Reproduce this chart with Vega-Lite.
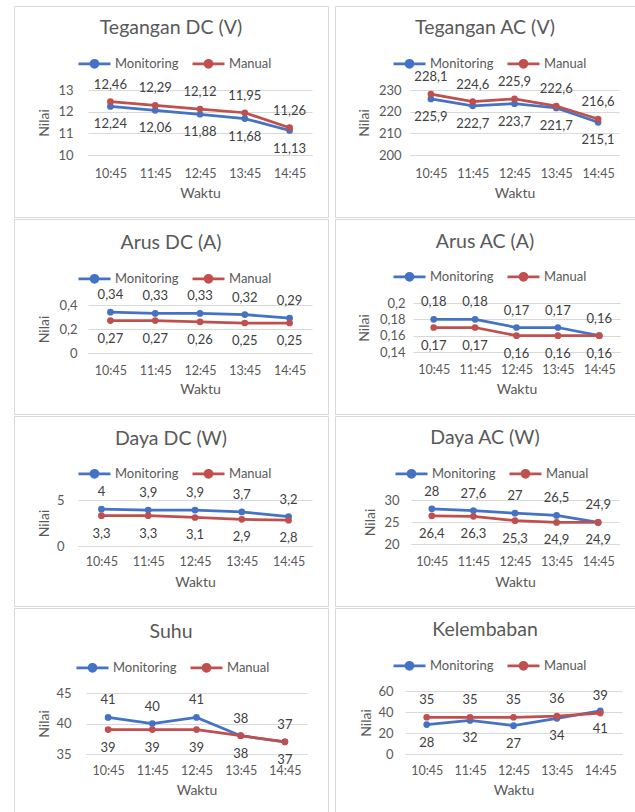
{
  "$schema": "https://vega.github.io/schema/vega-lite/v6.json",
  "padding": {"left": 13, "top": 5, "right": 0, "bottom": 0},
  "columns": 2,
  "spacing": {"row": 2, "column": 7},
  "bounds": "flush",
  "align": "each",
  "resolve": {"scale": {"color": "independent"}, "legend": {"color": "independent"}},
  "data": {"values": [
    {"p":"TDC","s":"Monitoring","w":"10:45","v":12.24},{"p":"TDC","s":"Monitoring","w":"11:45","v":12.06},{"p":"TDC","s":"Monitoring","w":"12:45","v":11.88},{"p":"TDC","s":"Monitoring","w":"13:45","v":11.68},{"p":"TDC","s":"Monitoring","w":"14:45","v":11.13},
    {"p":"TDC","s":"Manual","w":"10:45","v":12.46},{"p":"TDC","s":"Manual","w":"11:45","v":12.29},{"p":"TDC","s":"Manual","w":"12:45","v":12.12},{"p":"TDC","s":"Manual","w":"13:45","v":11.95},{"p":"TDC","s":"Manual","w":"14:45","v":11.26},
    {"p":"TAC","s":"Monitoring","w":"10:45","v":225.9},{"p":"TAC","s":"Monitoring","w":"11:45","v":222.7},{"p":"TAC","s":"Monitoring","w":"12:45","v":223.7},{"p":"TAC","s":"Monitoring","w":"13:45","v":221.7},{"p":"TAC","s":"Monitoring","w":"14:45","v":215.1},
    {"p":"TAC","s":"Manual","w":"10:45","v":228.1},{"p":"TAC","s":"Manual","w":"11:45","v":224.6},{"p":"TAC","s":"Manual","w":"12:45","v":225.9},{"p":"TAC","s":"Manual","w":"13:45","v":222.6},{"p":"TAC","s":"Manual","w":"14:45","v":216.6},
    {"p":"ADC","s":"Monitoring","w":"10:45","v":0.34},{"p":"ADC","s":"Monitoring","w":"11:45","v":0.33},{"p":"ADC","s":"Monitoring","w":"12:45","v":0.33},{"p":"ADC","s":"Monitoring","w":"13:45","v":0.32},{"p":"ADC","s":"Monitoring","w":"14:45","v":0.29},
    {"p":"ADC","s":"Manual","w":"10:45","v":0.27},{"p":"ADC","s":"Manual","w":"11:45","v":0.27},{"p":"ADC","s":"Manual","w":"12:45","v":0.26},{"p":"ADC","s":"Manual","w":"13:45","v":0.25},{"p":"ADC","s":"Manual","w":"14:45","v":0.25},
    {"p":"AAC","s":"Monitoring","w":"10:45","v":0.18},{"p":"AAC","s":"Monitoring","w":"11:45","v":0.18},{"p":"AAC","s":"Monitoring","w":"12:45","v":0.17},{"p":"AAC","s":"Monitoring","w":"13:45","v":0.17},{"p":"AAC","s":"Monitoring","w":"14:45","v":0.16},
    {"p":"AAC","s":"Manual","w":"10:45","v":0.17},{"p":"AAC","s":"Manual","w":"11:45","v":0.17},{"p":"AAC","s":"Manual","w":"12:45","v":0.16},{"p":"AAC","s":"Manual","w":"13:45","v":0.16},{"p":"AAC","s":"Manual","w":"14:45","v":0.16},
    {"p":"DDC","s":"Monitoring","w":"10:45","v":4},{"p":"DDC","s":"Monitoring","w":"11:45","v":3.9},{"p":"DDC","s":"Monitoring","w":"12:45","v":3.9},{"p":"DDC","s":"Monitoring","w":"13:45","v":3.7},{"p":"DDC","s":"Monitoring","w":"14:45","v":3.2},
    {"p":"DDC","s":"Manual","w":"10:45","v":3.3},{"p":"DDC","s":"Manual","w":"11:45","v":3.3},{"p":"DDC","s":"Manual","w":"12:45","v":3.1},{"p":"DDC","s":"Manual","w":"13:45","v":2.9},{"p":"DDC","s":"Manual","w":"14:45","v":2.8},
    {"p":"DAC","s":"Monitoring","w":"10:45","v":28},{"p":"DAC","s":"Monitoring","w":"11:45","v":27.6},{"p":"DAC","s":"Monitoring","w":"12:45","v":27},{"p":"DAC","s":"Monitoring","w":"13:45","v":26.5},{"p":"DAC","s":"Monitoring","w":"14:45","v":24.9},
    {"p":"DAC","s":"Manual","w":"10:45","v":26.4},{"p":"DAC","s":"Manual","w":"11:45","v":26.3},{"p":"DAC","s":"Manual","w":"12:45","v":25.3},{"p":"DAC","s":"Manual","w":"13:45","v":24.9},{"p":"DAC","s":"Manual","w":"14:45","v":24.9},
    {"p":"SUHU","s":"Monitoring","w":"10:45","v":41},{"p":"SUHU","s":"Monitoring","w":"11:45","v":40},{"p":"SUHU","s":"Monitoring","w":"12:45","v":41},{"p":"SUHU","s":"Monitoring","w":"13:45","v":38},{"p":"SUHU","s":"Monitoring","w":"14:45","v":37},
    {"p":"SUHU","s":"Manual","w":"10:45","v":39},{"p":"SUHU","s":"Manual","w":"11:45","v":39},{"p":"SUHU","s":"Manual","w":"12:45","v":39},{"p":"SUHU","s":"Manual","w":"13:45","v":38},{"p":"SUHU","s":"Manual","w":"14:45","v":37},
    {"p":"KEL","s":"Monitoring","w":"10:45","v":28},{"p":"KEL","s":"Monitoring","w":"11:45","v":32},{"p":"KEL","s":"Monitoring","w":"12:45","v":27},{"p":"KEL","s":"Monitoring","w":"13:45","v":34},{"p":"KEL","s":"Monitoring","w":"14:45","v":41},
    {"p":"KEL","s":"Manual","w":"10:45","v":35},{"p":"KEL","s":"Manual","w":"11:45","v":35},{"p":"KEL","s":"Manual","w":"12:45","v":35},{"p":"KEL","s":"Manual","w":"13:45","v":36},{"p":"KEL","s":"Manual","w":"14:45","v":39}
  ]},
  "concat": [
    {
      "width": 314, "height": 211,
      "title": {"text": "Tegangan DC (V)", "offset": -32},
      "transform": [{"filter": "datum.p === 'TDC'"}],
      "encoding": {
        "x": {"field": "w", "type": "nominal", "sort": null, "scale": {"type": "point", "range": [74, 298], "padding": 0.5}, "axis": {"title": "Waktu", "offset": -62, "labelPadding": 18, "titleY": 38}},
        "y": {"field": "v", "type": "quantitative", "scale": {"domain": [10, 13], "range": [149, 84], "zero": false, "nice": false}, "axis": {"title": "Nilai", "offset": -74, "values": [10, 11, 12, 13], "labelPadding": 15, "titleX": -44}}
      },
      "layer": [
        {"mark": {"type": "line", "strokeWidth": 2.75, "point": {"filled": true, "size": 45}},
         "encoding": {"color": {"field": "s", "type": "nominal", "scale": {"domain": ["Monitoring", "Manual"], "range": ["#4472C4", "#C0504D"]},
           "legend": {"orient": "none", "legendX": 63, "legendY": 40, "direction": "horizontal", "title": null, "symbolType": "M-1,0L1,0M-0.22,0A0.22,0.22,0,1,1,0.22,0A0.22,0.22,0,1,1,-0.22,0Z", "symbolSize": 1024, "symbolStrokeWidth": 2.7, "labelFontSize": 13, "labelColor": "#595959", "labelOffset": 3, "columnPadding": 8, "padding": 0,
             "encode": {"symbols": {"update": {"fill": [{"test": "datum.value === 'Monitoring'", "value": "#4472C4"}, {"value": "#C0504D"}], "stroke": [{"test": "datum.value === 'Monitoring'", "value": "#4472C4"}, {"value": "#C0504D"}]}}}}}}},
        {"transform": [{"filter": "datum.s === 'Manual'"}], "mark": {"type": "text", "dy": -17}, "encoding": {"text": {"field": "v", "type": "quantitative", "format": ".2~f"}}},
        {"transform": [{"filter": "datum.s === 'Monitoring'"}], "mark": {"type": "text", "dy": 18}, "encoding": {"text": {"field": "v", "type": "quantitative", "format": ".2~f"}}}
      ]
    },
    {
      "width": 300, "height": 211,
      "title": {"text": "Tegangan AC (V)", "offset": -32},
      "transform": [{"filter": "datum.p === 'TAC'"}],
      "encoding": {
        "x": {"field": "w", "type": "nominal", "sort": null, "scale": {"type": "point", "range": [75, 284], "padding": 0.5}, "axis": {"title": "Waktu", "offset": -62, "labelPadding": 18, "titleY": 38}},
        "y": {"field": "v", "type": "quantitative", "scale": {"domain": [200, 230], "range": [149, 84], "zero": false, "nice": false}, "axis": {"title": "Nilai", "offset": -75, "values": [200, 210, 220, 230], "labelPadding": 9, "titleX": -46}}
      },
      "layer": [
        {"mark": {"type": "line", "strokeWidth": 2.75, "point": {"filled": true, "size": 45}},
         "encoding": {"color": {"field": "s", "type": "nominal", "scale": {"domain": ["Monitoring", "Manual"], "range": ["#4472C4", "#C0504D"]},
           "legend": {"orient": "none", "legendX": 57, "legendY": 40, "direction": "horizontal", "title": null, "symbolType": "M-1,0L1,0M-0.22,0A0.22,0.22,0,1,1,0.22,0A0.22,0.22,0,1,1,-0.22,0Z", "symbolSize": 1024, "symbolStrokeWidth": 2.7, "labelFontSize": 13, "labelColor": "#595959", "labelOffset": 3, "columnPadding": 8, "padding": 0,
             "encode": {"symbols": {"update": {"fill": [{"test": "datum.value === 'Monitoring'", "value": "#4472C4"}, {"value": "#C0504D"}], "stroke": [{"test": "datum.value === 'Monitoring'", "value": "#4472C4"}, {"value": "#C0504D"}]}}}}}}},
        {"transform": [{"filter": "datum.s === 'Manual'"}], "mark": {"type": "text", "dy": -17}, "encoding": {"text": {"field": "v", "type": "quantitative", "format": ".2~f"}}},
        {"transform": [{"filter": "datum.s === 'Monitoring'"}], "mark": {"type": "text", "dy": 18}, "encoding": {"text": {"field": "v", "type": "quantitative", "format": ".2~f"}}}
      ]
    },
    {
      "width": 314, "height": 195,
      "title": {"text": "Arus DC (A)", "offset": -34},
      "transform": [{"filter": "datum.p === 'ADC'"}],
      "encoding": {
        "x": {"field": "w", "type": "nominal", "sort": null, "scale": {"type": "point", "range": [74, 298], "padding": 0.5}, "axis": {"title": "Waktu", "offset": -61, "labelPadding": 17, "titleY": 36}},
        "y": {"field": "v", "type": "quantitative", "scale": {"domain": [0, 0.4], "range": [134, 86], "zero": false, "nice": false}, "axis": {"title": "Nilai", "offset": -74, "values": [0, 0.2, 0.4], "format": ".2~f", "labelPadding": 11, "titleX": -44}}
      },
      "layer": [
        {"mark": {"type": "line", "strokeWidth": 2.75, "point": {"filled": true, "size": 45}},
         "encoding": {"color": {"field": "s", "type": "nominal", "scale": {"domain": ["Monitoring", "Manual"], "range": ["#4472C4", "#C0504D"]},
           "legend": {"orient": "none", "legendX": 63, "legendY": 42, "direction": "horizontal", "title": null, "symbolType": "M-1,0L1,0M-0.22,0A0.22,0.22,0,1,1,0.22,0A0.22,0.22,0,1,1,-0.22,0Z", "symbolSize": 1024, "symbolStrokeWidth": 2.7, "labelFontSize": 13, "labelColor": "#595959", "labelOffset": 3, "columnPadding": 8, "padding": 0,
             "encode": {"symbols": {"update": {"fill": [{"test": "datum.value === 'Monitoring'", "value": "#4472C4"}, {"value": "#C0504D"}], "stroke": [{"test": "datum.value === 'Monitoring'", "value": "#4472C4"}, {"value": "#C0504D"}]}}}}}}},
        {"transform": [{"filter": "datum.s === 'Monitoring'"}], "mark": {"type": "text", "dy": -17}, "encoding": {"text": {"field": "v", "type": "quantitative", "format": ".2~f"}}},
        {"transform": [{"filter": "datum.s === 'Manual'"}], "mark": {"type": "text", "dy": 18}, "encoding": {"text": {"field": "v", "type": "quantitative", "format": ".2~f"}}}
      ]
    },
    {
      "width": 300, "height": 195,
      "title": {"text": "Arus AC (A)", "offset": -33},
      "transform": [{"filter": "datum.p === 'AAC'"}],
      "encoding": {
        "x": {"field": "w", "type": "nominal", "sort": null, "scale": {"type": "point", "range": [78, 285], "padding": 0.5}, "axis": {"title": "Waktu", "offset": -62, "labelPadding": 17, "titleY": 37}},
        "y": {"field": "v", "type": "quantitative", "scale": {"domain": [0.14, 0.2], "range": [133, 84], "zero": false, "nice": false}, "axis": {"title": "Nilai", "offset": -78, "values": [0.14, 0.16, 0.18, 0.2], "format": ".2~f", "labelPadding": 8, "titleX": -49}}
      },
      "layer": [
        {"mark": {"type": "line", "strokeWidth": 2.75, "point": {"filled": true, "size": 45}},
         "encoding": {"color": {"field": "s", "type": "nominal", "scale": {"domain": ["Monitoring", "Manual"], "range": ["#4472C4", "#C0504D"]},
           "legend": {"orient": "none", "legendX": 57, "legendY": 40, "direction": "horizontal", "title": null, "symbolType": "M-1,0L1,0M-0.22,0A0.22,0.22,0,1,1,0.22,0A0.22,0.22,0,1,1,-0.22,0Z", "symbolSize": 1024, "symbolStrokeWidth": 2.7, "labelFontSize": 13, "labelColor": "#595959", "labelOffset": 3, "columnPadding": 8, "padding": 0,
             "encode": {"symbols": {"update": {"fill": [{"test": "datum.value === 'Monitoring'", "value": "#4472C4"}, {"value": "#C0504D"}], "stroke": [{"test": "datum.value === 'Monitoring'", "value": "#4472C4"}, {"value": "#C0504D"}]}}}}}}},
        {"transform": [{"filter": "datum.s === 'Monitoring'"}], "mark": {"type": "text", "dy": -17}, "encoding": {"text": {"field": "v", "type": "quantitative", "format": ".2~f"}}},
        {"transform": [{"filter": "datum.s === 'Manual'"}], "mark": {"type": "text", "dy": 18}, "encoding": {"text": {"field": "v", "type": "quantitative", "format": ".2~f"}}}
      ]
    },
    {
      "width": 314, "height": 190,
      "title": {"text": "Daya DC (W)", "offset": -33},
      "transform": [{"filter": "datum.p === 'DDC'"}],
      "encoding": {
        "x": {"field": "w", "type": "nominal", "sort": null, "scale": {"type": "point", "range": [64, 298], "padding": 0.5}, "axis": {"title": "Waktu", "offset": -60, "labelPadding": 15, "titleY": 36}},
        "y": {"field": "v", "type": "quantitative", "scale": {"domain": [0, 5], "range": [130, 84], "zero": false, "nice": false}, "axis": {"title": "Nilai", "offset": -64, "values": [0, 5], "labelPadding": 14, "titleX": -34}}
      },
      "layer": [
        {"mark": {"type": "line", "strokeWidth": 2.75, "point": {"filled": true, "size": 45}},
         "encoding": {"color": {"field": "s", "type": "nominal", "scale": {"domain": ["Monitoring", "Manual"], "range": ["#4472C4", "#C0504D"]},
           "legend": {"orient": "none", "legendX": 63, "legendY": 40, "direction": "horizontal", "title": null, "symbolType": "M-1,0L1,0M-0.22,0A0.22,0.22,0,1,1,0.22,0A0.22,0.22,0,1,1,-0.22,0Z", "symbolSize": 1024, "symbolStrokeWidth": 2.7, "labelFontSize": 13, "labelColor": "#595959", "labelOffset": 3, "columnPadding": 8, "padding": 0,
             "encode": {"symbols": {"update": {"fill": [{"test": "datum.value === 'Monitoring'", "value": "#4472C4"}, {"value": "#C0504D"}], "stroke": [{"test": "datum.value === 'Monitoring'", "value": "#4472C4"}, {"value": "#C0504D"}]}}}}}}},
        {"transform": [{"filter": "datum.s === 'Monitoring'"}], "mark": {"type": "text", "dy": -17}, "encoding": {"text": {"field": "v", "type": "quantitative", "format": ".2~f"}}},
        {"transform": [{"filter": "datum.s === 'Manual'"}], "mark": {"type": "text", "dy": 18}, "encoding": {"text": {"field": "v", "type": "quantitative", "format": ".2~f"}}}
      ]
    },
    {
      "width": 300, "height": 190,
      "title": {"text": "Daya AC (W)", "offset": -32},
      "transform": [{"filter": "datum.p === 'DAC'"}],
      "encoding": {
        "x": {"field": "w", "type": "nominal", "sort": null, "scale": {"type": "point", "range": [76, 284], "padding": 0.5}, "axis": {"title": "Waktu", "offset": -62, "labelPadding": 17, "titleY": 38}},
        "y": {"field": "v", "type": "quantitative", "scale": {"domain": [20, 30], "range": [128, 84], "zero": false, "nice": false}, "axis": {"title": "Nilai", "offset": -76, "values": [20, 25, 30], "labelPadding": 12, "titleX": -41}}
      },
      "layer": [
        {"mark": {"type": "line", "strokeWidth": 2.75, "point": {"filled": true, "size": 45}},
         "encoding": {"color": {"field": "s", "type": "nominal", "scale": {"domain": ["Monitoring", "Manual"], "range": ["#4472C4", "#C0504D"]},
           "legend": {"orient": "none", "legendX": 59, "legendY": 40, "direction": "horizontal", "title": null, "symbolType": "M-1,0L1,0M-0.22,0A0.22,0.22,0,1,1,0.22,0A0.22,0.22,0,1,1,-0.22,0Z", "symbolSize": 1024, "symbolStrokeWidth": 2.7, "labelFontSize": 13, "labelColor": "#595959", "labelOffset": 3, "columnPadding": 8, "padding": 0,
             "encode": {"symbols": {"update": {"fill": [{"test": "datum.value === 'Monitoring'", "value": "#4472C4"}, {"value": "#C0504D"}], "stroke": [{"test": "datum.value === 'Monitoring'", "value": "#4472C4"}, {"value": "#C0504D"}]}}}}}}},
        {"transform": [{"filter": "datum.s === 'Monitoring'"}], "mark": {"type": "text", "dy": -17}, "encoding": {"text": {"field": "v", "type": "quantitative", "format": ".2~f"}}},
        {"transform": [{"filter": "datum.s === 'Manual'"}], "mark": {"type": "text", "dy": 18}, "encoding": {"text": {"field": "v", "type": "quantitative", "format": ".2~f"}}}
      ]
    },
    {
      "width": 314, "height": 204,
      "title": {"text": "Suhu", "offset": -34},
      "transform": [{"filter": "datum.p === 'SUHU'"}],
      "encoding": {
        "x": {"field": "w", "type": "nominal", "sort": null, "scale": {"type": "point", "range": [72, 293], "padding": 0.5}, "axis": {"title": "Waktu", "offset": -58, "labelPadding": 16, "titleY": 36}},
        "y": {"field": "v", "type": "quantitative", "scale": {"domain": [35, 45], "range": [146, 85], "zero": false, "nice": false}, "axis": {"title": "Nilai", "offset": -72, "values": [35, 40, 45], "labelPadding": 15, "titleX": -42}}
      },
      "layer": [
        {"mark": {"type": "line", "strokeWidth": 2.75, "point": {"filled": true, "size": 45}},
         "encoding": {"color": {"field": "s", "type": "nominal", "scale": {"domain": ["Monitoring", "Manual"], "range": ["#4472C4", "#C0504D"]},
           "legend": {"orient": "none", "legendX": 61, "legendY": 42, "direction": "horizontal", "title": null, "symbolType": "M-1,0L1,0M-0.22,0A0.22,0.22,0,1,1,0.22,0A0.22,0.22,0,1,1,-0.22,0Z", "symbolSize": 1024, "symbolStrokeWidth": 2.7, "labelFontSize": 13, "labelColor": "#595959", "labelOffset": 3, "columnPadding": 8, "padding": 0,
             "encode": {"symbols": {"update": {"fill": [{"test": "datum.value === 'Monitoring'", "value": "#4472C4"}, {"value": "#C0504D"}], "stroke": [{"test": "datum.value === 'Monitoring'", "value": "#4472C4"}, {"value": "#C0504D"}]}}}}}}},
        {"transform": [{"filter": "datum.s === 'Monitoring'"}], "mark": {"type": "text", "dy": -17}, "encoding": {"text": {"field": "v", "type": "quantitative", "format": ".2~f"}}},
        {"transform": [{"filter": "datum.s === 'Manual'"}], "mark": {"type": "text", "dy": 18}, "encoding": {"text": {"field": "v", "type": "quantitative", "format": ".2~f"}}}
      ]
    },
    {
      "width": 300, "height": 204,
      "title": {"text": "Kelembaban", "offset": -32},
      "transform": [{"filter": "datum.p === 'KEL'"}],
      "encoding": {
        "x": {"field": "w", "type": "nominal", "sort": null, "scale": {"type": "point", "range": [70, 287], "padding": 0.5}, "axis": {"title": "Waktu", "offset": -58, "labelPadding": 16, "titleY": 36}},
        "y": {"field": "v", "type": "quantitative", "scale": {"domain": [0, 60], "range": [146, 83], "zero": false, "nice": false}, "axis": {"title": "Nilai", "offset": -70, "values": [0, 20, 40, 60], "labelPadding": 12, "titleX": -39}}
      },
      "layer": [
        {"mark": {"type": "line", "strokeWidth": 2.75, "point": {"filled": true, "size": 45}},
         "encoding": {"color": {"field": "s", "type": "nominal", "scale": {"domain": ["Monitoring", "Manual"], "range": ["#4472C4", "#C0504D"]},
           "legend": {"orient": "none", "legendX": 57, "legendY": 40, "direction": "horizontal", "title": null, "symbolType": "M-1,0L1,0M-0.22,0A0.22,0.22,0,1,1,0.22,0A0.22,0.22,0,1,1,-0.22,0Z", "symbolSize": 1024, "symbolStrokeWidth": 2.7, "labelFontSize": 13, "labelColor": "#595959", "labelOffset": 3, "columnPadding": 8, "padding": 0,
             "encode": {"symbols": {"update": {"fill": [{"test": "datum.value === 'Monitoring'", "value": "#4472C4"}, {"value": "#C0504D"}], "stroke": [{"test": "datum.value === 'Monitoring'", "value": "#4472C4"}, {"value": "#C0504D"}]}}}}}}},
        {"transform": [{"filter": "datum.s === 'Manual'"}], "mark": {"type": "text", "dy": -17}, "encoding": {"text": {"field": "v", "type": "quantitative", "format": ".2~f"}}},
        {"transform": [{"filter": "datum.s === 'Monitoring'"}], "mark": {"type": "text", "dy": 18}, "encoding": {"text": {"field": "v", "type": "quantitative", "format": ".2~f"}}}
      ]
    }
  ],
  "config": {
    "font": "Lato",
    "locale": {"number": {"decimal": ",", "thousands": ".", "grouping": [3], "currency": ["", ""]}},
    "view": {"stroke": "#d9d9d9", "strokeWidth": 1},
    "title": {"fontSize": 19.5, "fontWeight": "normal", "color": "#595959", "baseline": "middle", "anchor": "middle", "frame": "group"},
    "text": {"fontSize": 13, "color": "#404040", "baseline": "middle"},
    "axis": {"labelFontSize": 12.5, "labelColor": "#595959", "titleFontSize": 14, "titleFontWeight": "normal", "titleColor": "#595959", "ticks": false, "tickSize": 0, "gridColor": "#d9d9d9", "domainColor": "#d9d9d9", "labelFont": "Lato", "titleFont": "Lato"},
    "axisX": {"grid": false, "labelAngle": 0, "labelBaseline": "middle", "titleBaseline": "middle"},
    "axisY": {"grid": true, "domain": false, "titleBaseline": "middle", "labelFontSize": 13},
    "legend": {"labelFont": "Lato"}
  }
}
